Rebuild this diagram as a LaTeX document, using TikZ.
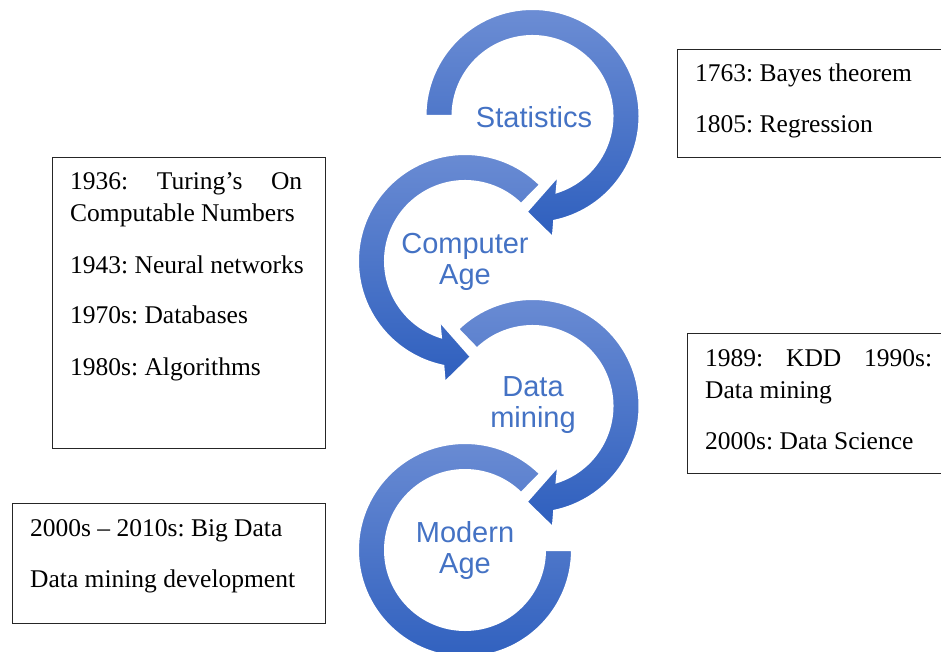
\documentclass[tikz,border=0pt]{standalone}
\usepackage{fontspec}
\setmainfont{Liberation Serif}
\newfontfamily\labelfont{Liberation Sans}

\definecolor{ringtop}{RGB}{108,141,212}
\definecolor{ringbot}{RGB}{46,95,190}
\definecolor{labelblue}{RGB}{68,114,196}

\tikzset{
  ring/.style={top color=ringtop, bottom color=ringbot, draw=white, line width=2pt, line join=miter},
  stage/.style={font=\labelfont\fontsize{29}{31}\selectfont, text=labelblue, align=center, inner sep=0pt},
  notebox/.style={draw=black!85, line width=1.1pt, anchor=north west, inner sep=0pt},
  notes/.style={anchor=base west, inner sep=0pt, font=\fontsize{25.5}{32}\selectfont}
}
\newcommand\notetext[1]{\parbox[t]{300pt}{\frenchspacing\raggedright #1}}

\begin{document}
\begin{tikzpicture}[x=1pt, y=1pt]
\useasboundingbox (0,0) rectangle (941,-652);
\clip (0,0) rectangle (941,-652);

% ---- circular arrows, drawn bottom to top so each head sits over the next ring
% Modern Age (counter-clockwise, no head)
\begin{scope}[shift={(465,-550)}]
  \path[ring] (45.5:107pt) arc[start angle=45.5, end angle=360, radius=107pt]
    -- (0:80pt) arc[start angle=360, end angle=45.5, radius=80pt] -- cycle;
\end{scope}
% Data mining (clockwise)
\begin{scope}[shift={(532.5,-406)}]
  \path[ring] (134:107pt) arc[start angle=134, end angle=-78.3, radius=107pt]
    -- (-80.5:123pt) -- (-93.5:96pt) -- (-66.9:65.3pt) -- (-72.5:80pt)
    arc[start angle=-72.5, end angle=134, radius=80pt] -- cycle;
\end{scope}
% Computer Age (counter-clockwise)
\begin{scope}[shift={(465,-261)}]
  \path[ring] (45.5:107pt) arc[start angle=45.5, end angle=258.3, radius=107pt]
    -- (260.5:123pt) -- (273.5:96pt) -- (246.9:65.3pt) -- (252.5:80pt)
    arc[start angle=252.5, end angle=45.5, radius=80pt] -- cycle;
\end{scope}
% Statistics (clockwise)
\begin{scope}[shift={(532.5,-116)}]
  \path[ring] (180:107pt) arc[start angle=180, end angle=-78.3, radius=107pt]
    -- (-80.5:123pt) -- (-93.5:96pt) -- (-66.9:65.3pt) -- (-72.5:80pt)
    arc[start angle=-72.5, end angle=180, radius=80pt] -- cycle;
\end{scope}

% ---- stage labels
\node[stage] (stat) at (534,-117) {Statistics};
\node[stage] (comp) at (465,-262) {Computer\\Age};
\node[stage] (data) at (533,-405) {Data\\mining};
\node[stage] (mod) at (465,-550) {Modern\\Age};

% ---- note boxes
\node[notebox, minimum width=270pt, minimum height=108pt] (trbox) at (677,-49) {};
\node[notes] (trtext) at (695,-81.5)
  {\notetext{1763: Bayes theorem\\[19pt]1805: Regression}};

\node[notebox, minimum width=273pt, minimum height=291pt] (lbox) at (52,-157) {};
\node[notes] (ltext) at (70,-190)
  {\notetext{\makebox[232pt][s]{1936: Turing's On}\\Computable Numbers\\[19pt]1943: Neural networks\\[19pt]1970s: Databases\\[19pt]1980s: Algorithms}};

\node[notebox, minimum width=260pt, minimum height=140pt] (rmbox) at (687,-333) {};
\node[notes] (rmtext) at (705,-366)
  {\notetext{\makebox[227pt][s]{1989: KDD 1990s:}\\Data mining\\[19pt]2000s: Data Science}};

\node[notebox, minimum width=313pt, minimum height=120pt] (blbox) at (12,-503) {};
\node[notes] (bltext) at (30,-536)
  {\notetext{2000s -- 2010s: Big Data\\[19pt]Data mining development}};
\end{tikzpicture}
\end{document}
